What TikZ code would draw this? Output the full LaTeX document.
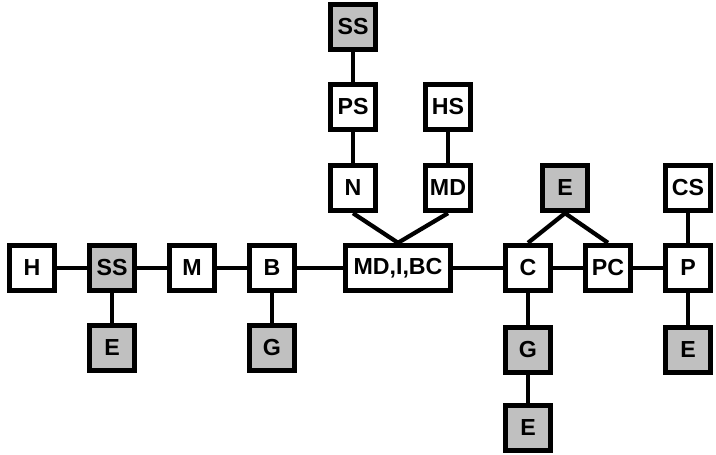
\documentclass[tikz,border=0pt]{standalone}
\usepackage{fontspec}
\setmainfont{Liberation Sans}
\usetikzlibrary{backgrounds}

\definecolor{boxgray}{RGB}{192,192,192}

\begin{document}
\begin{tikzpicture}[x=0.025cm,y=-0.025cm,
  blk/.style={draw,line width=3.4pt,fill=white,minimum width=1.14cm,minimum height=1.14cm,
    inner sep=0pt,font=\fontsize{16.5}{18}\selectfont\bfseries},
  gblk/.style={blk,fill=boxgray},
  wire/.style={line width=3pt}]
\useasboundingbox (0,0) rectangle (716,454);
% main row
\node[blk] (h) at (32,268) {H};
\node[gblk] (ssl) at (112,268) {SS};
\node[blk] (m) at (192,268) {M};
\node[blk] (b) at (272,268) {B};
\node[blk,minimum width=2.64cm] (mib) at (398,268) {MD,I,BC};
\node[blk] (c) at (528,268) {C};
\node[blk] (pc) at (608,268) {PC};
\node[blk] (p) at (688,268) {P};
% below the row
\node[gblk] (el) at (112,348) {E};
\node[gblk] (gl) at (272,348) {G};
\node[gblk] (gc) at (528,350) {G};
\node[gblk] (ec) at (528,428) {E};
\node[gblk] (ep) at (688,350) {E};
% above the row
\node[gblk] (et) at (565,188) {E};
\node[blk] (cs) at (688,188) {CS};
\node[blk] (n) at (353,188) {N};
\node[blk] (md) at (448,188) {MD};
\node[blk] (ps) at (353,107) {PS};
\node[blk] (hs) at (448,107) {HS};
\node[gblk] (sst) at (353,27) {SS};
% links
\begin{scope}[on background layer]
\draw[wire] (h) -- (ssl) -- (m) -- (b) -- (mib) -- (c) -- (pc) -- (p);
\draw[wire] (ssl) -- (el);
\draw[wire] (b) -- (gl);
\draw[wire] (c) -- (gc) -- (ec);
\draw[wire] (p) -- (ep);
\draw[wire] (p) -- (cs);
\draw[wire] (c.north) -- (et.south) -- (pc.north);
\draw[wire] (n.south) -- (mib.north) -- (md.south);
\draw[wire] (n) -- (ps) -- (sst);
\draw[wire] (md) -- (hs);
\end{scope}
\end{tikzpicture}
\end{document}
